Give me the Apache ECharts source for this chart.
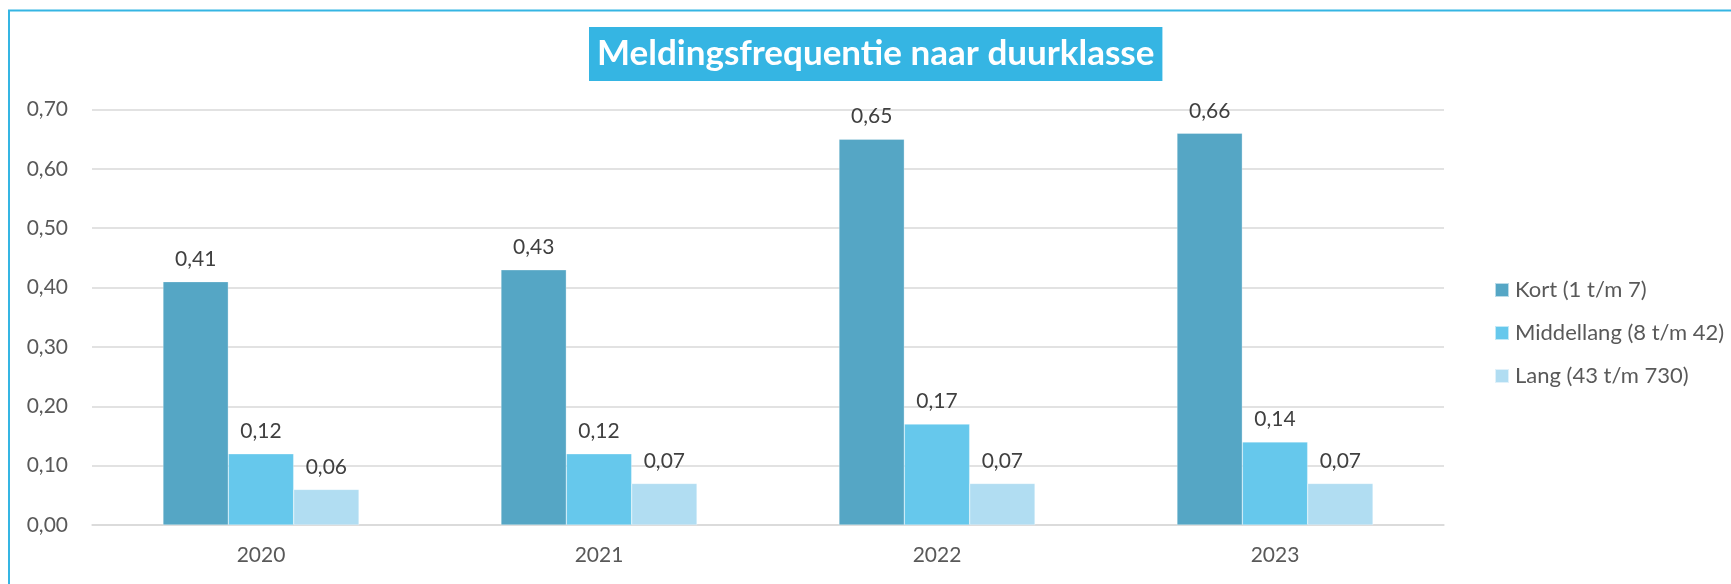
<!DOCTYPE html>
<html>
<head>
<meta charset="utf-8">
<script src="https://cdn.jsdelivr.net/npm/echarts@6/dist/echarts.min.js"></script>
<style>html,body{margin:0;padding:0;background:#fff;}#c{width:1731px;height:584px;}</style>
</head>
<body>
<div id="c"></div>
<script>
const categories = ['2020', '2021', '2022', '2023'];
const seriesNames = ['Kort (1 t/m 7)', 'Middellang (8 t/m 42)', 'Lang (43 t/m 730)'];
const kort = [0.41, 0.43, 0.65, 0.66];
const middellang = [0.12, 0.12, 0.17, 0.14];
const lang = [0.06, 0.07, 0.07, 0.07];
const yTicks = [0, 0.1, 0.2, 0.3, 0.4, 0.5, 0.6, 0.7];
const titleText = 'Meldingsfrequentie naar duurklasse';

const colors = ['#55A6C5', '#66C8EC', '#B1DDF2'];
const FONT = 'Lato';
const fmt = v => v.toFixed(2).replace('.', ',');

const chart = echarts.init(document.getElementById('c'));
const mk = (name, data, i) => ({
  name, type: 'bar', data,
  barGap: '0%', barCategoryGap: '42%',
  itemStyle: { color: colors[i], borderColor: 'rgba(255,255,255,0.6)', borderWidth: 0.5 },
  label: { show: true, position: 'top', distance: 12, color: '#404040', fontFamily: FONT, fontSize: 21,
    formatter: p => fmt(p.value) },
  emphasis: { disabled: true }
});
chart.setOption({
  animation: false,
  textStyle: { fontFamily: FONT },
  graphic: [{
    type: 'rect', shape: { x: 9, y: 10.5, width: 3000, height: 3000 },
    style: { fill: 'none', stroke: '#35B5E3', lineWidth: 2 }, silent: true, z: 100
  }],
  title: {
    text: titleText, left: 589, top: 27,
    backgroundColor: '#35B5E3', padding: [9, 8, 9, 8],
    textStyle: { color: '#fff', fontFamily: FONT, fontWeight: 'bold', fontSize: 35, lineHeight: 36 }
  },
  legend: {
    orient: 'vertical', left: 1489, top: 274, itemGap: 21,
    itemWidth: 14, itemHeight: 14,
    data: seriesNames.map(n => ({ name: n, icon: 'rect' })),
    textStyle: { color: '#595959', fontFamily: FONT, fontSize: 22, padding: [0, 0, 0, 1] },
    selectedMode: false
  },
  grid: { left: 92, right: 287, top: 109.5, bottom: 59, containLabel: false },
  xAxis: {
    type: 'category', data: categories,
    axisLine: { lineStyle: { color: '#D9D9D9', width: 1.5 } },
    axisTick: { show: false },
    axisLabel: { color: '#595959', fontSize: 21, fontFamily: FONT, margin: 20 }
  },
  yAxis: {
    type: 'value', min: 0, max: 0.7, interval: 0.1,
    axisLine: { show: false }, axisTick: { show: false },
    splitLine: { lineStyle: { color: '#D9D9D9', width: 1.5 } },
    axisLabel: { color: '#595959', fontSize: 21, fontFamily: FONT, margin: 24,
      formatter: v => fmt(v) }
  },
  series: [mk(seriesNames[0], kort, 0), mk(seriesNames[1], middellang, 1), mk(seriesNames[2], lang, 2)]
});
</script>
</body>
</html>
